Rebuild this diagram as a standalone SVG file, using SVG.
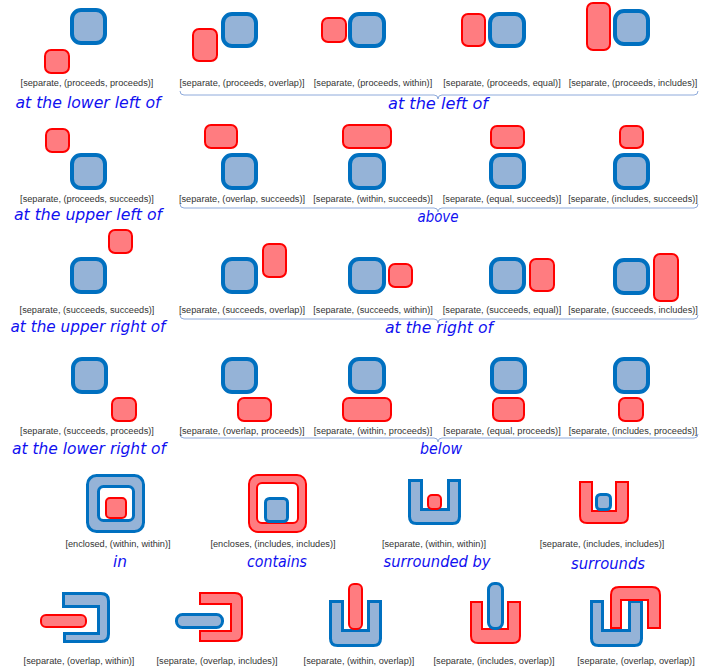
<svg xmlns="http://www.w3.org/2000/svg" width="709" height="670" viewBox="0 0 709 670">
<style>
.b{fill:#95b3d7;stroke:#0070c0;stroke-width:4}
.bt{fill:#95b3d7;stroke:#0070c0;stroke-width:3}
.r{fill:#ff7c80;stroke:#ff0000;stroke-width:2}
.w{fill:#ffffff}
.lb{font-family:"Liberation Sans",Arial,sans-serif;font-size:9.2px;fill:#333333;text-anchor:middle}
.nm{font-family:"Comic Sans MS","DejaVu Sans",sans-serif;font-style:italic;font-size:16px;fill:#1010f0;text-anchor:middle}
.br{fill:none;stroke:#8eaadb;stroke-width:1}
</style>
<rect width="709" height="670" fill="#ffffff"/>
<g id="braces">
<path class="br" d="M180,91 Q180,95 184,95 L434,95 Q438,95 438,99 Q438,95 442,95 L694,95 Q698,95 698,91"/>
<path class="br" d="M180,204 Q180,208 184,208 L434,208 Q438,208 438,212 Q438,208 442,208 L694,208 Q698,208 698,204"/>
<path class="br" d="M180,315 Q180,319 184,319 L434,319 Q438,319 438,323 Q438,319 442,319 L694,319 Q698,319 698,315"/>
<path class="br" d="M180,434 Q180,438 184,438 L434,438 Q438,438 438,442 Q438,438 442,438 L694,438 Q698,438 698,434"/>
</g>
<!-- Row 1 -->
<g id="r1p1"><rect class="b" x="72" y="10" width="33" height="33" rx="9"/><rect class="r" x="45" y="50" width="24" height="23" rx="6"/><text class="lb" x="87" y="86">[separate, (proceeds, proceeds)]</text></g>
<g id="r1p2"><rect class="r" x="193" y="29" width="24" height="32" rx="6"/><rect class="b" x="223" y="14" width="33" height="32" rx="9"/><text class="lb" x="242" y="86">[separate, (proceeds, overlap)]</text></g>
<g id="r1p3"><rect class="r" x="322" y="18" width="24" height="24" rx="6"/><rect class="b" x="350" y="14" width="34" height="32" rx="9"/><text class="lb" x="373" y="86">[separate, (proceeds, within)]</text></g>
<g id="r1p4"><rect class="r" x="462" y="14" width="23" height="32" rx="6"/><rect class="b" x="490" y="14" width="34" height="32" rx="9"/><text class="lb" x="502" y="86">[separate, (proceeds, equal)]</text></g>
<g id="r1p5"><rect class="r" x="587" y="3" width="23" height="47" rx="6"/><rect class="b" x="615" y="11" width="33" height="33" rx="9"/><text class="lb" x="633" y="86">[separate, (proceeds, includes)]</text></g>
<g id="n1a"><text class="nm" x="88" y="108" textLength="145" lengthAdjust="spacingAndGlyphs">at the lower left of</text></g>
<g id="n1b"><text class="nm" x="438" y="109" textLength="100" lengthAdjust="spacingAndGlyphs">at the left of</text></g>
<!-- Row 2 -->
<g id="r2p1"><rect class="r" x="46" y="129" width="23" height="23" rx="6"/><rect class="b" x="72" y="155" width="33" height="33" rx="9"/><text class="lb" x="87" y="202">[separate, (proceeds, succeeds)]</text></g>
<g id="r2p2"><rect class="r" x="205" y="125" width="32" height="23" rx="6"/><rect class="b" x="223" y="155" width="33" height="33" rx="9"/><text class="lb" x="242" y="202">[separate, (overlap, succeeds)]</text></g>
<g id="r2p3"><rect class="r" x="343" y="125" width="48" height="23" rx="6"/><rect class="b" x="350" y="155" width="34" height="33" rx="9"/><text class="lb" x="373" y="202">[separate, (within, succeeds)]</text></g>
<g id="r2p4"><rect class="r" x="491" y="126" width="33" height="22" rx="6"/><rect class="b" x="491" y="155" width="33" height="32" rx="9"/><text class="lb" x="502" y="202">[separate, (equal, succeeds)]</text></g>
<g id="r2p5"><rect class="r" x="620" y="126" width="23" height="22" rx="6"/><rect class="b" x="615" y="155" width="33" height="33" rx="9"/><text class="lb" x="633" y="202">[separate, (includes, succeeds)]</text></g>
<g id="n2a"><text class="nm" x="88" y="220" textLength="148" lengthAdjust="spacingAndGlyphs">at the upper left of</text></g>
<g id="n2b"><text class="nm" x="438" y="222" textLength="41" lengthAdjust="spacingAndGlyphs">above</text></g>
<!-- Row 3 -->
<g id="r3p1"><rect class="r" x="109" y="230" width="23" height="23" rx="6"/><rect class="b" x="72" y="259" width="33" height="33" rx="9"/><text class="lb" x="87" y="313">[separate, (succeeds, succeeds)]</text></g>
<g id="r3p2"><rect class="b" x="223" y="259" width="33" height="33" rx="9"/><rect class="r" x="263" y="244" width="23" height="33" rx="6"/><text class="lb" x="242" y="313">[separate, (succeeds, overlap)]</text></g>
<g id="r3p3"><rect class="b" x="350" y="259" width="34" height="33" rx="9"/><rect class="r" x="389" y="264" width="23" height="23" rx="6"/><text class="lb" x="373" y="313">[separate, (succeeds, within)]</text></g>
<g id="r3p4"><rect class="b" x="491" y="259" width="33" height="33" rx="9"/><rect class="r" x="530" y="259" width="24" height="32" rx="6"/><text class="lb" x="502" y="313">[separate, (succeeds, equal)]</text></g>
<g id="r3p5"><rect class="b" x="615" y="260" width="33" height="33" rx="9"/><rect class="r" x="654" y="254" width="24" height="47" rx="6"/><text class="lb" x="633" y="313">[separate, (succeeds, includes)]</text></g>
<g id="n3a"><text class="nm" x="88" y="332" textLength="155" lengthAdjust="spacingAndGlyphs">at the upper right of</text></g>
<g id="n3b"><text class="nm" x="439" y="333" textLength="108" lengthAdjust="spacingAndGlyphs">at the right of</text></g>
<!-- Row 4 -->
<g id="r4p1"><rect class="b" x="73" y="359" width="33" height="33" rx="9"/><rect class="r" x="112" y="398" width="24" height="23" rx="6"/><text class="lb" x="87" y="434">[separate, (succeeds, proceeds)]</text></g>
<g id="r4p2"><rect class="b" x="223" y="359" width="33" height="33" rx="9"/><rect class="r" x="238" y="398" width="33" height="23" rx="6"/><text class="lb" x="242" y="434">[separate, (overlap, proceeds)]</text></g>
<g id="r4p3"><rect class="b" x="350" y="359" width="34" height="33" rx="9"/><rect class="r" x="343" y="398" width="48" height="23" rx="6"/><text class="lb" x="373" y="434">[separate, (within, proceeds)]</text></g>
<g id="r4p4"><rect class="b" x="492" y="359" width="33" height="33" rx="9"/><rect class="r" x="493" y="398" width="31" height="23" rx="6"/><text class="lb" x="502" y="434">[separate, (equal, proceeds)]</text></g>
<g id="r4p5"><rect class="b" x="615" y="359" width="33" height="33" rx="9"/><rect class="r" x="619" y="398" width="24" height="23" rx="6"/><text class="lb" x="633" y="434">[separate, (includes, proceeds)]</text></g>
<g id="n4a"><text class="nm" x="89" y="454" textLength="154" lengthAdjust="spacingAndGlyphs">at the lower right of</text></g>
<g id="n4b"><text class="nm" x="441" y="454" textLength="42" lengthAdjust="spacingAndGlyphs">below</text></g>
<!-- Row 5 -->
<g id="in"><rect class="bt" x="87.5" y="475.5" width="56" height="56" rx="9"/><rect class="w" x="98.5" y="486.5" width="35" height="34" rx="5" stroke="#0070c0" stroke-width="3"/><rect class="r" x="106" y="498" width="20" height="20" rx="4"/><text class="lb" x="118" y="547">[enclosed, (within, within)]</text><text class="nm" x="120" y="567" textLength="14" lengthAdjust="spacingAndGlyphs">in</text></g>
<g id="contains"><rect class="r" x="249" y="475" width="57" height="57" rx="9"/><rect class="w" x="257" y="483" width="41" height="40" rx="5" stroke="#ff0000" stroke-width="2"/><rect class="bt" x="265.5" y="498.5" width="22" height="23" rx="4"/><text class="lb" x="273" y="547">[encloses, (includes, includes)]</text><text class="nm" x="277" y="567" textLength="60" lengthAdjust="spacingAndGlyphs">contains</text></g>
<g id="surroundedby"><path class="bt" d="M409.5,480.5 H421.5 V509.5 H448.5 V480.5 H459.5 V516.5 Q459.5,523.5 452.5,523.5 H416.5 Q409.5,523.5 409.5,516.5 Z"/><rect class="r" x="428" y="495" width="13" height="14" rx="4"/><text class="lb" x="434" y="547">[separate, (within, within)]</text><text class="nm" x="437" y="567" textLength="107" lengthAdjust="spacingAndGlyphs">surrounded by</text></g>
<g id="surrounds"><path class="r" d="M580,482 H592 V511 H616 V482 H628 V516 Q628,523 621,523 H587 Q580,523 580,516 Z"/><rect class="bt" x="596.5" y="494.5" width="14" height="15" rx="4"/><text class="lb" x="602" y="547">[separate, (includes, includes)]</text><text class="nm" x="608" y="569" textLength="74" lengthAdjust="spacingAndGlyphs">surrounds</text></g>
<!-- Row 6 -->
<g id="r6p1"><path class="bt" d="M63.5,593.5 H101 Q108.5,593.5 108.5,601 V634 Q108.5,641.5 101,641.5 H64.5 V633.5 H98.5 V606.5 H63.5 Z"/><rect class="r" x="41" y="615" width="45" height="12" rx="5"/><text class="lb" x="79" y="664">[separate, (overlap, within)]</text></g>
<g id="r6p2"><path class="r" d="M200,593 H235 Q242,593 242,600 V634 Q242,641 235,641 H200 V631 H231 V604 H200 Z"/><rect class="bt" x="176.5" y="614.5" width="46" height="13" rx="6"/><text class="lb" x="217" y="664">[separate, (overlap, includes)]</text></g>
<g id="r6p3"><path class="bt" d="M330.5,601.5 H342.5 V630.5 H368.5 V601.5 H380.5 V638.5 Q380.5,645.5 373.5,645.5 H337.5 Q330.5,645.5 330.5,638.5 Z"/><rect class="r" x="349" y="584" width="13" height="45" rx="5"/><text class="lb" x="359" y="664">[separate, (within, overlap)]</text></g>
<g id="r6p4"><path class="r" d="M471,602 H482 V629 H508 V602 H520 V636 Q520,643 513,643 H478 Q471,643 471,636 Z"/><rect class="bt" x="488.5" y="583.5" width="14" height="45" rx="6"/><text class="lb" x="494" y="664">[separate, (includes, overlap)]</text></g>
<g id="r6p5"><path class="bt" d="M591.5,601.5 H602.5 V630.5 H629.5 V601.5 H641.5 V638.5 Q641.5,645.5 634.5,645.5 H598.5 Q591.5,645.5 591.5,638.5 Z"/><path class="r" d="M611,628 V595 Q611,587 619,587 H652 Q660,587 660,595 V628 H648 V600 H621 V628 Z"/><text class="lb" x="636" y="664">[separate, (overlap, overlap)]</text></g>
</svg>
